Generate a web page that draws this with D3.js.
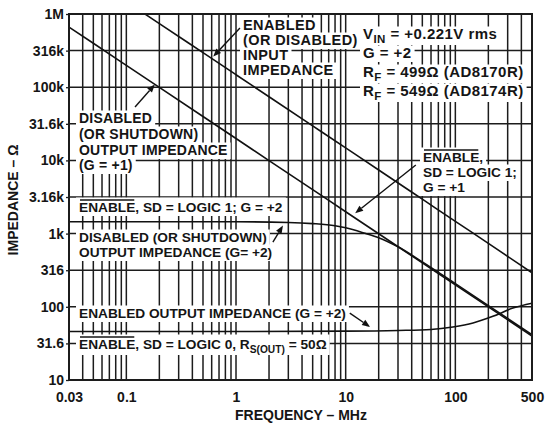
<!DOCTYPE html>
<html><head><meta charset="utf-8">
<script src="https://cdn.jsdelivr.net/npm/d3@7"></script>
<style>
body{margin:0;background:#fff}
text{font-family:"Liberation Sans",Arial,Helvetica,sans-serif;font-weight:bold;fill:#151515}
</style>
</head><body>
<svg id="c" width="548" height="425"></svg>
<script>
// ---- data ----
const xTickVals = [0.03, 0.1, 1, 10, 100, 500];
const xTickLabels = ["0.03", "0.1", "1", "10", "100", "500"];
const yTickVals = [10, 31.6, 100, 316, 1000, 3160, 10000, 31600, 100000, 316000, 1000000];
const yTickLabels = ["10", "31.6", "100", "316", "1k", "3.16k", "10k", "31.6k", "100k", "316k", "1M"];

// Enabled (or disabled) input impedance
const inputFreq = [0.12, 0.2, 0.5, 1, 2, 5, 10, 20, 50, 100, 200, 500];
const inputZ = [1230000, 740000, 296000, 148000, 74000, 29600, 14800, 7400, 2950, 1470, 735, 292];
// Disabled output impedance G=+1
const disG1Freq = [0.03, 0.05, 0.1, 0.2, 0.5, 1, 2, 5, 10, 20, 50, 100, 200, 500];
const disG1Z = [663000, 398000, 199000, 99500, 39800, 19900, 9950, 3980, 1990, 995, 398, 199, 99.5, 39.8];
// Disabled output impedance G=+2
const disG2Freq = [0.03, 0.1, 1, 3, 5, 8, 10, 15, 20, 30, 50, 100, 200, 500];
const disG2Z = [1450, 1450, 1450, 1420, 1370, 1280, 1200, 1010, 880, 660, 410, 207, 104, 41.5];
// Enabled output impedance G=+2
const enOutFreq = [0.03, 1, 10, 30, 60, 95, 145, 220, 335, 500];
const enOutZ = [46, 46, 46.5, 47.5, 49, 53, 60, 74, 96, 112];

// ---- layout ----
const svg = d3.select("#c");
const L = 69, R = 532, T = 14, B = 380;
const x = d3.scaleLog().domain([0.03, 500]).range([L, R]);
const y = d3.scaleLog().domain([10, 1e6]).range([B, T]);

// vertical grid values (1..9 per decade)
const vGrid = [];
[0.01, 0.1, 1, 10, 100].forEach(d => { for (let k = 1; k <= 9; k++) { const v = +(k * d).toPrecision(3); if (v >= 0.03 && v <= 500) vGrid.push(v); } });

const grid = svg.append("g").attr("stroke", "#1c1c1c").attr("stroke-width", 1.5);
grid.selectAll("line.v").data(vGrid).join("line")
  .attr("x1", d => x(d)).attr("x2", d => x(d)).attr("y1", T).attr("y2", B);
grid.selectAll("line.h").data(yTickVals).join("line")
  .attr("x1", L).attr("x2", R).attr("y1", d => y(d)).attr("y2", d => y(d));

// axes labels
const yAxis = d3.axisLeft(y).tickValues(yTickVals).tickSize(3).tickPadding(2)
  .tickFormat((d, i) => yTickLabels[i]);
const gy = svg.append("g").attr("transform", `translate(${L},0)`).call(yAxis);
gy.select(".domain").remove();
gy.selectAll("line").attr("stroke", "#1c1c1c").attr("stroke-width", 1.3);
gy.selectAll("text").style("font-size", "14px").attr("fill", "#151515");

const xAxis = d3.axisBottom(x).tickValues(xTickVals).tickSize(0).tickPadding(12)
  .tickFormat((d, i) => xTickLabels[i]);
const gx = svg.append("g").attr("transform", `translate(0,${B})`).call(xAxis);
gx.select(".domain").remove();
gx.selectAll("text").style("font-size", "14px").attr("fill", "#151515");

// ---- labels with white backgrounds ----
const labelLayer = svg.append("g");
function addLine(px, py, segs, fs, ls) {
  const g = labelLayer.append("g");
  const rect = g.append("rect").attr("fill", "#fff");
  const t = g.append("text").attr("x", px).attr("y", py).style("font-size", fs + "px")
    .style("letter-spacing", ls + "px");
  let hasSub = false, hasOver = false;
  const overs = [];
  segs.forEach(s => {
    if (typeof s === "string") s = { t: s };
    const ts = t.append("tspan").text(s.t);
    if (s.sub) { ts.attr("dy", 4).style("font-size", (fs - 3.5) + "px"); hasSub = true; }
    if (s.back) ts.attr("dy", -4);
    if (s.over) { overs.push(ts); hasOver = true; }
  });
  const bb = t.node().getBBox();
  const top = py - (hasOver ? 14.5 : 12.5);
  const bot = py + (hasSub ? 6 : 4);
  rect.attr("x", bb.x - 3).attr("y", top).attr("width", bb.width + 6).attr("height", bot - top);
  overs.forEach(ts => {
    const w = ts.node().getComputedTextLength();
    g.append("line").attr("x1", px + 1).attr("x2", px + w - 1).attr("y1", py - 12).attr("y2", py - 12)
      .attr("stroke", "#151515").attr("stroke-width", 1.3);
  });
}
function para(px, baselines, lines, fs = 13.7, ls = 0) { lines.forEach((ln, i) => addLine(px, baselines[i], ln, fs, ls)); }

para(243, [30, 45, 60, 75], [["ENABLED"], ["(OR DISABLED)"], ["INPUT"], ["IMPEDANCE"]], 14.5, 0.4);
para(363, [39, 58, 77, 96], [
  ["V", { t: "IN", sub: true }, { t: " = +0.221V rms", back: true }],
  ["G = +2"],
  ["R", { t: "F", sub: true }, { t: " = 499\u03A9 (AD8170R)", back: true }],
  ["R", { t: "F", sub: true }, { t: " = 549\u03A9 (AD8174R)", back: true }]
], 15, 0.45);
para(79, [123, 139, 155, 170], [["DISABLED"], ["(OR SHUTDOWN)"], ["OUTPUT IMPEDANCE"], ["(G = +1)"]], 14, 0.2);
para(423, [162, 177, 192], [[{ t: "ENABLE", over: true }, ","], ["SD = LOGIC 1;"], ["G = +1"]]);
para(79, [212], [[{ t: "ENABLE", over: true }, ", SD = LOGIC 1; G = +2"]]);
para(79, [242, 257], [["DISABLED (OR SHUTDOWN)"], ["OUTPUT IMPEDANCE (G= +2)"]]);
para(79, [318], [["ENABLED OUTPUT IMPEDANCE (G = +2)"]]);
para(79, [349], [[{ t: "ENABLE", over: true }, ", SD = LOGIC 0, R", { t: "S(OUT)", sub: true }, { t: " = 50\u03A9", back: true }]]);

// ---- curves ----
svg.append("clipPath").attr("id", "clip").append("rect").attr("x", L).attr("y", T).attr("width", R - L).attr("height", B - T);
const line = d3.line().x(d => x(d[0])).y(d => y(d[1])).curve(d3.curveMonotoneX);
const series = [
  d3.zip(inputFreq, inputZ),
  d3.zip(disG1Freq, disG1Z),
  d3.zip(disG2Freq, disG2Z),
  d3.zip(enOutFreq, enOutZ)
];
svg.append("g").attr("clip-path", "url(#clip)").selectAll("path").data(series).join("path")
  .attr("d", line).attr("fill", "none").attr("stroke", "#111").attr("stroke-width", 1.6);

// ---- arrows (data coords) ----
const arrows = [
  { from: [1.086, 645000], to: [0.62, 262000] },
  { from: [0.12, 53600], to: [0.182, 109000] },
  { from: [43.6, 8650], to: [12.2, 1900] },
  { from: [2.17, 767], to: [2.68, 1290] },
  { from: [10.9, 82], to: [16.7, 53] }
];
const ag = svg.append("g");
arrows.forEach(a => {
  const x1 = x(a.from[0]), y1 = y(a.from[1]), x2 = x(a.to[0]), y2 = y(a.to[1]);
  const ang = Math.atan2(y2 - y1, x2 - x1);
  const hl = 8, hw = 3.2;
  const bx = x2 - hl * Math.cos(ang), by = y2 - hl * Math.sin(ang);
  ag.append("line").attr("x1", x1).attr("y1", y1).attr("x2", bx).attr("y2", by)
    .attr("stroke", "#111").attr("stroke-width", 1.4);
  ag.append("path").attr("fill", "#111").attr("d",
    `M${x2},${y2}L${bx + hw * Math.sin(ang)},${by - hw * Math.cos(ang)}L${bx - hw * Math.sin(ang)},${by + hw * Math.cos(ang)}Z`);
});

// frame
svg.append("rect").attr("x", L).attr("y", T).attr("width", R - L).attr("height", B - T)
  .attr("fill", "none").attr("stroke", "#1c1c1c").attr("stroke-width", 2);

// axis titles
svg.append("text").attr("x", 301).attr("y", 420).attr("text-anchor", "middle").style("font-size", "14px")
  .text("FREQUENCY \u2013 MHz");
svg.append("text").attr("transform", "translate(18,200) rotate(-90)").attr("text-anchor", "middle")
  .style("font-size", "14px").text("IMPEDANCE \u2013 \u03A9");
</script>
</body></html>
